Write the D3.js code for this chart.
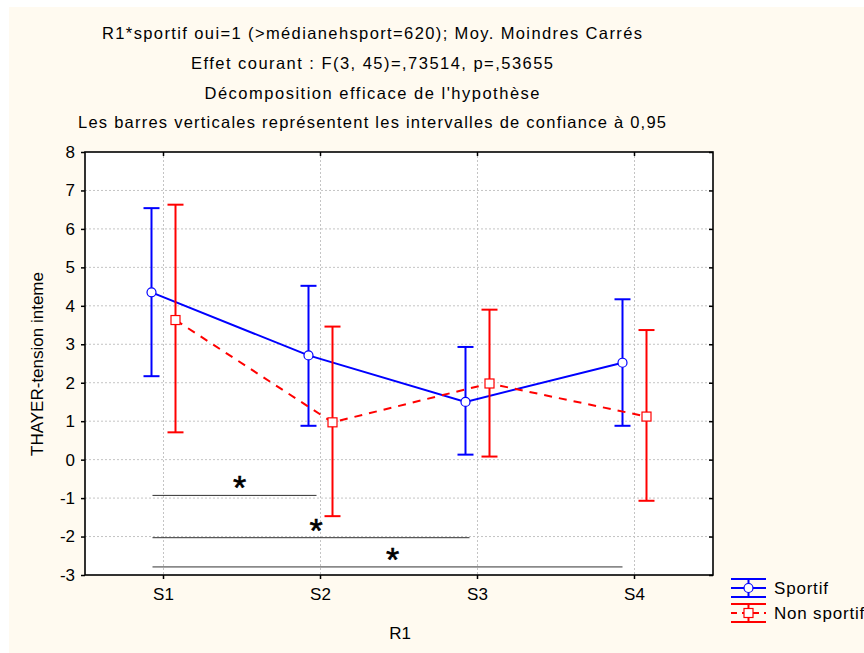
<!DOCTYPE html>
<html>
<head>
<meta charset="utf-8">
<script src="https://cdn.jsdelivr.net/npm/d3@7"></script>
<style>
  body { margin: 0; background: #ffffff; }
  text { font-family: "Liberation Sans", Arial, sans-serif; fill: #000; }
</style>
</head>
<body>
<svg id="vis" width="864" height="653"></svg>
<script>
// values
var categories = ["S1", "S2", "S3", "S4"];
var sportifMean = [4.35, 2.71, 1.50, 2.52];
var sportifLow = [2.17, 0.88, 0.13, 0.88];
var sportifHigh = [6.54, 4.52, 2.93, 4.17];
var nonSportifMean = [3.63, 0.97, 1.98, 1.12];
var nonSportifLow = [0.71, -1.47, 0.08, -1.07];
var nonSportifHigh = [6.63, 3.46, 3.90, 3.37];
var yTicks = [-3, -2, -1, 0, 1, 2, 3, 4, 5, 6, 7, 8];
var seriesNames = ["Sportif", "Non sportif"];
var titleLines = [
    "R1*sportif oui=1 (>médianehsport=620); Moy. Moindres Carrés",
    "Effet courant : F(3, 45)=,73514, p=,53655",
    "Décomposition efficace de l'hypothèse",
    "Les barres verticales représentent les intervalles de confiance à 0,95"
];
// significance brackets (S1 vs other levels)
var sigFrom = ["S1", "S1", "S1"];
var sigTo = ["S2", "S3", "S4"];
var sigLevel = [-0.93, -2.03, -2.79];

var w = 864, h = 653;
var plot = {left: 85, top: 152, right: 713, bottom: 575};

var svg = d3.select("#vis");

// cream background
svg.append("rect").attr("x", 9).attr("y", 7)
    .attr("width", w - 9).attr("height", h - 7)
    .attr("fill", "#fffaf0");

var xScale = d3.scaleBand().domain(categories)
    .range([plot.left, plot.right]).padding(0);
var xc = function(c) { return xScale(c) + xScale.bandwidth() / 2; };
var yScale = d3.scaleLinear().domain([-3, 8]).range([plot.bottom, plot.top]);

// plot area
svg.append("rect")
    .attr("x", plot.left).attr("y", plot.top)
    .attr("width", plot.right - plot.left).attr("height", plot.bottom - plot.top)
    .attr("fill", "#ffffff");

// grid
var grid = svg.append("g");
grid.selectAll("line.gy").data(yTicks.slice(1, -1)).enter().append("line")
    .attr("x1", plot.left).attr("x2", plot.right)
    .attr("y1", function(d) { return yScale(d); })
    .attr("y2", function(d) { return yScale(d); })
    .attr("stroke", "#c4c4c4").attr("stroke-width", 1)
    .attr("stroke-dasharray", "2,2");
grid.selectAll("line.gx").data(categories).enter().append("line")
    .attr("x1", function(d) { return xc(d); }).attr("x2", function(d) { return xc(d); })
    .attr("y1", plot.top).attr("y2", plot.bottom)
    .attr("stroke", "#c4c4c4").attr("stroke-width", 1)
    .attr("stroke-dasharray", "2,2");

// titles
var titleY = [33, 63, 93, 122];
var titleW = [540, 362, 335, 588];
svg.selectAll("text.title").data(titleLines).enter().append("text")
    .attr("class", "title")
    .attr("x", 372)
    .attr("y", function(d, i) { return titleY[i] + 6; })
    .attr("text-anchor", "middle")
    .attr("font-size", "16.5px")
    .attr("textLength", function(d, i) { return titleW[i]; })
    .attr("lengthAdjust", "spacing")
    .text(function(d) { return d; });

// significance lines
var sig = svg.append("g");
sigLevel.forEach(function(lv, i) {
    var x1 = xc(sigFrom[i]) - 11, x2 = xc(sigTo[i]) - 4 - 4 * i;
    sig.append("line")
        .attr("x1", x1).attr("x2", x2)
        .attr("y1", yScale(lv)).attr("y2", yScale(lv))
        .attr("stroke", "#333").attr("stroke-width", 1);
    sig.append("text")
        .attr("x", (x1 + x2) / 2 + 5)
        .attr("y", yScale(lv) + 4)
        .attr("text-anchor", "middle")
        .attr("font-size", "34px")
        .attr("stroke", "#000").attr("stroke-width", 0.6)
        .text("*");
});

// series
function drawSeries(mean, low, high, colour, dx, dashed, marker) {
    var g = svg.append("g");
    var pts = categories.map(function(c, i) { return [xc(c) + dx, yScale(mean[i])]; });
    g.append("path")
        .attr("d", d3.line()(pts))
        .attr("fill", "none").attr("stroke", colour).attr("stroke-width", 2)
        .attr("stroke-dasharray", dashed ? "8,7" : null);
    categories.forEach(function(c, i) {
        var x = xc(c) + dx;
        g.append("line").attr("x1", x).attr("x2", x)
            .attr("y1", yScale(low[i])).attr("y2", yScale(high[i]))
            .attr("stroke", colour).attr("stroke-width", 2);
        [low[i], high[i]].forEach(function(v) {
            g.append("line").attr("x1", x - 8).attr("x2", x + 8)
                .attr("y1", yScale(v)).attr("y2", yScale(v))
                .attr("stroke", colour).attr("stroke-width", 2);
        });
        if (marker == "circle") {
            g.append("circle").attr("cx", x).attr("cy", yScale(mean[i])).attr("r", 4.5)
                .attr("fill", "#fff").attr("stroke", colour).attr("stroke-width", 1.2);
        } else {
            g.append("rect").attr("x", x - 4.5).attr("y", yScale(mean[i]) - 4.5)
                .attr("width", 9).attr("height", 9)
                .attr("fill", "#fff").attr("stroke", colour).attr("stroke-width", 1.2);
        }
    });
}
drawSeries(sportifMean, sportifLow, sportifHigh, "#0000ff", -12, false, "circle");
drawSeries(nonSportifMean, nonSportifLow, nonSportifHigh, "#ff0000", 12, true, "square");

// frame
svg.append("rect")
    .attr("x", plot.left).attr("y", plot.top)
    .attr("width", plot.right - plot.left).attr("height", plot.bottom - plot.top)
    .attr("fill", "none").attr("stroke", "#000").attr("stroke-width", 1.6);

// axes
var plainNum = function(d) { return String(d); };
var yAxis = svg.append("g").attr("transform", "translate(" + plot.left + ",0)")
    .call(d3.axisLeft(yScale).tickValues(yTicks).tickSize(4).tickPadding(6).tickFormat(plainNum));
var xAxis = svg.append("g").attr("transform", "translate(0," + plot.bottom + ")")
    .call(d3.axisBottom(xScale).tickSize(4).tickPadding(9));
var yAxisR = svg.append("g").attr("transform", "translate(" + plot.right + ",0)")
    .call(d3.axisLeft(yScale).tickValues(yTicks).tickSize(4).tickFormat(""));
var xAxisT = svg.append("g").attr("transform", "translate(0," + plot.top + ")")
    .call(d3.axisBottom(xScale).tickSize(4).tickFormat(""));
[yAxis, xAxis, yAxisR, xAxisT].forEach(function(a) {
    a.attr("font-size", null).attr("font-family", null);
    a.select(".domain").remove();
    a.selectAll(".tick line").attr("stroke", "#000").attr("stroke-width", 1.5);
    a.selectAll("text").style("font-size", "17px").attr("fill", "#000");
});

// axis titles
svg.append("text").attr("x", 400).attr("y", 639)
    .attr("text-anchor", "middle").style("font-size", "17px").text("R1");
svg.append("text")
    .attr("transform", "translate(43,364) rotate(-90)")
    .attr("text-anchor", "middle").style("font-size", "17px")
    .text("THAYER-tension inteme");

// legend
var legend = svg.append("g");
var legColours = ["#0000ff", "#ff0000"];
var legY = [588, 613];
seriesNames.forEach(function(name, i) {
    var y = legY[i], c = legColours[i];
    var x1 = 731, x2 = 766, xm = (x1 + x2) / 2;
    [-9, 9].forEach(function(d) {
        legend.append("line").attr("x1", x1).attr("x2", x2)
            .attr("y1", y + d).attr("y2", y + d).attr("stroke", c).attr("stroke-width", 2);
    });
    legend.append("line").attr("x1", x1).attr("x2", x2)
        .attr("y1", y).attr("y2", y).attr("stroke", c).attr("stroke-width", 2)
        .attr("stroke-dasharray", i == 1 ? "6,5" : null);
    legend.append("line").attr("x1", xm).attr("x2", xm)
        .attr("y1", y - 9).attr("y2", y + 9).attr("stroke", c).attr("stroke-width", 2);
    if (i == 0) {
        legend.append("circle").attr("cx", xm).attr("cy", y).attr("r", 4.5)
            .attr("fill", "#fff").attr("stroke", c).attr("stroke-width", 1.2);
    } else {
        legend.append("rect").attr("x", xm - 4.5).attr("y", y - 4.5)
            .attr("width", 9).attr("height", 9)
            .attr("fill", "#fff").attr("stroke", c).attr("stroke-width", 1.2);
    }
    legend.append("text").attr("x", 774).attr("y", y + 6)
        .style("font-size", "17px").attr("letter-spacing", "0.8px").text(name);
});
</script>
</body>
</html>
